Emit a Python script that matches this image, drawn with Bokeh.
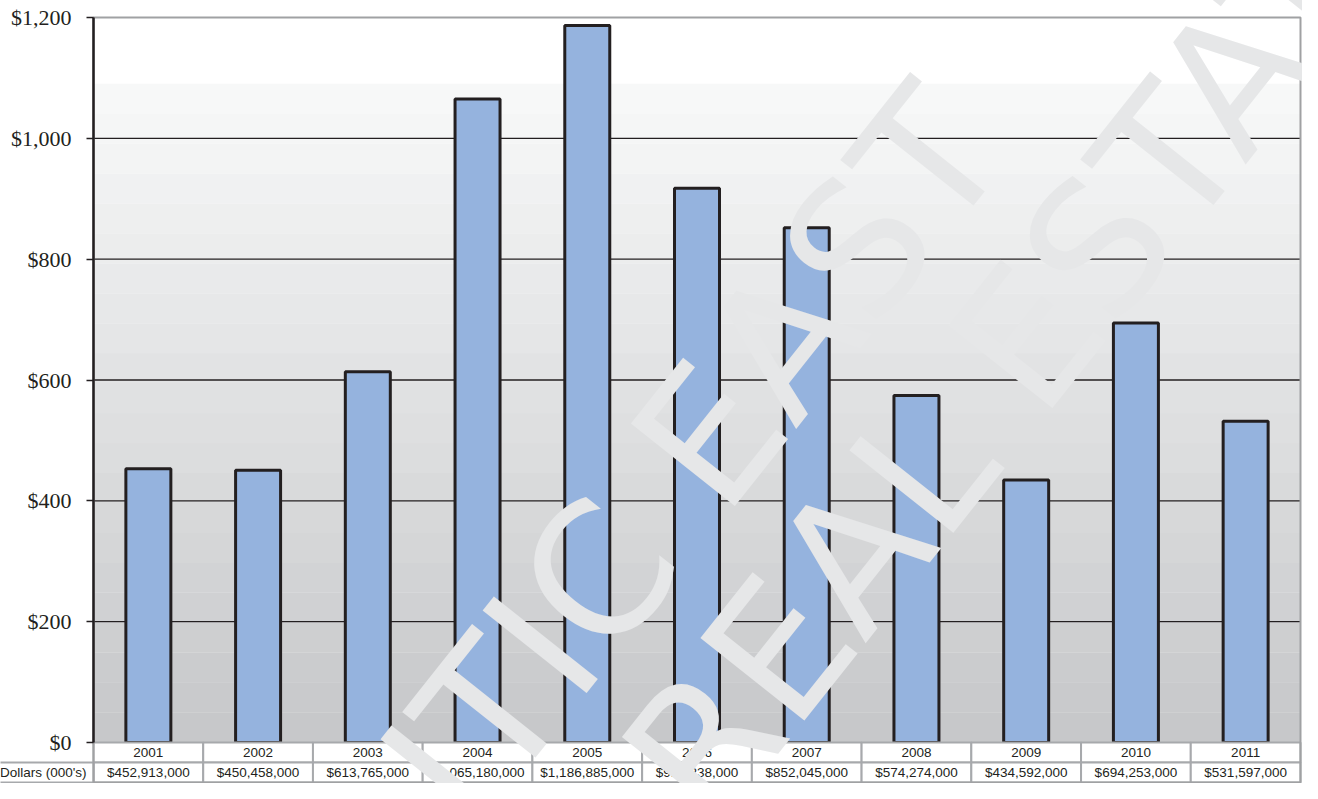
import numpy as np
from bokeh.plotting import figure
from bokeh.models import Range1d, FixedTicker, NumeralTickFormatter
from bokeh.core.properties import value
from bokeh.embed import file_html
from bokeh.resources import INLINE

# ---- data ----
years = ["2001", "2002", "2003", "2004", "2005", "2006", "2007", "2008", "2009", "2010", "2011"]
dollars = [452913000, 450458000, 613765000, 1065180000, 1186885000, 917238000,
           852045000, 574274000, 434592000, 694253000, 531597000]
y_ticks = [0, 200, 400, 600, 800, 1000, 1200]
row_header = ["Dollars (000's)"]
watermark = ["ATLANTIC EAST", "REAL ESTATE"]

millions = [d / 1e6 for d in dollars]
value_labels = ["${:,}".format(d) for d in dollars]
pos = np.arange(len(years)) + 0.5
ncat = len(years)

DARK = "#231f20"
GRAYLINE = "#a7a9ac"
W, H = 1302, 783
CELL = 109.73          # px per category
PXU = 0.60417          # px per $1M

p = figure(width=W, height=H,
           x_range=Range1d(-93 / CELL, ncat + 2 / CELL),
           y_range=Range1d(-41 / PXU, 1200 + 17 / PXU),
           output_backend="svg", toolbar_location=None, x_axis_location=None,
           min_border_left=0, min_border_right=0, min_border_top=0, min_border_bottom=0)
p.background_fill_color = "white"
p.border_fill_color = "white"
p.outline_line_color = None
p.xgrid.visible = False
p.ygrid.visible = False

# gradient background bands (style only)
n = 22
edges = np.linspace(0, 1090, n + 1)
c_top = np.array([249, 250, 250])
c_bot = np.array([198, 199, 201])
cols = []
for i in range(n):
    t = (i + 0.5) / n
    c = (c_bot + (c_top - c_bot) * t).astype(int)
    cols.append("#%02x%02x%02x" % tuple(c))
p.quad(left=0, right=ncat, bottom=edges[:-1], top=edges[1:] + 0.5,
       fill_color=cols, line_color=None, level="image")

# horizontal gridlines at the tick values, only across the plot area
grid_vals = y_ticks[1:-1]
p.segment(x0=0, x1=ncat, y0=grid_vals, y1=grid_vals,
          line_color=DARK, line_width=1.3, level="underlay")

# y axis (drawn at x = 0 of the data space)
ax = p.yaxis[0]
ax.fixed_location = 0
ax.ticker = FixedTicker(ticks=y_ticks)
ax.formatter = NumeralTickFormatter(format="$0,0")
ax.bounds = (0, 1200)
ax.major_label_text_font = "Liberation Serif"
ax.major_label_text_font_size = "22px"
ax.major_label_text_color = DARK
ax.major_tick_out = 7
ax.major_tick_in = 0
ax.minor_tick_out = 0
ax.minor_tick_in = 0
ax.major_tick_line_color = DARK
ax.major_tick_line_width = 1.5
ax.axis_line_color = DARK
ax.axis_line_width = 2.5
ax.major_label_standoff = 15

# bars
p.vbar(x=pos, top=millions, bottom=0, width=0.41,
       fill_color="#95b3de", line_color=DARK, line_width=3)

# data table below the plot
row1_top, row1_bot = 0, -20 / PXU
row2_top, row2_bot = -20 / PXU, -40 / PXU
p.quad(left=pos - 0.5, right=pos + 0.5, top=row1_top, bottom=row1_bot,
       fill_color="white", line_color=GRAYLINE, line_width=2)
p.quad(left=pos - 0.5, right=pos + 0.5, top=row2_top, bottom=row2_bot,
       fill_color="white", line_color=GRAYLINE, line_width=2)
# header cell left of the axis
p.quad(left=[-2], right=[0], top=row2_top, bottom=row2_bot,
       fill_color="white", line_color=GRAYLINE, line_width=2)
p.text(x=pos, y=(row1_top + row1_bot) / 2, text=years, text_align="center",
       text_baseline="middle", text_font=value("Liberation Sans"),
       text_font_size="13.5px", text_color=DARK)
p.text(x=pos, y=(row2_top + row2_bot) / 2, text=value_labels, text_align="center",
       text_baseline="middle", text_font=value("Liberation Sans"),
       text_font_size="13.5px", text_color=DARK)
p.text(x=[0], y=[(row2_top + row2_bot) / 2], text=row_header, x_offset=-7,
       text_align="right", text_baseline="middle", text_font=value("Liberation Sans"),
       text_font_size="13.5px", text_color=DARK)

# plot border (top and right), gray
p.quad(left=0, right=ncat, top=1200, bottom=row2_bot, fill_color=None,
       line_color="#a0a1a3", line_width=2)

# watermark
p.text(x=[3.96, 8.58], y=[127.5, 685.2], text=watermark, angle=0.9,
       text_align="center", text_baseline="alphabetic",
       text_font=value("DejaVu Sans"), text_font_size="182px",
       text_color="#e6e7e8", level="overlay")

open("out.html", "w").write(file_html(p, INLINE))
